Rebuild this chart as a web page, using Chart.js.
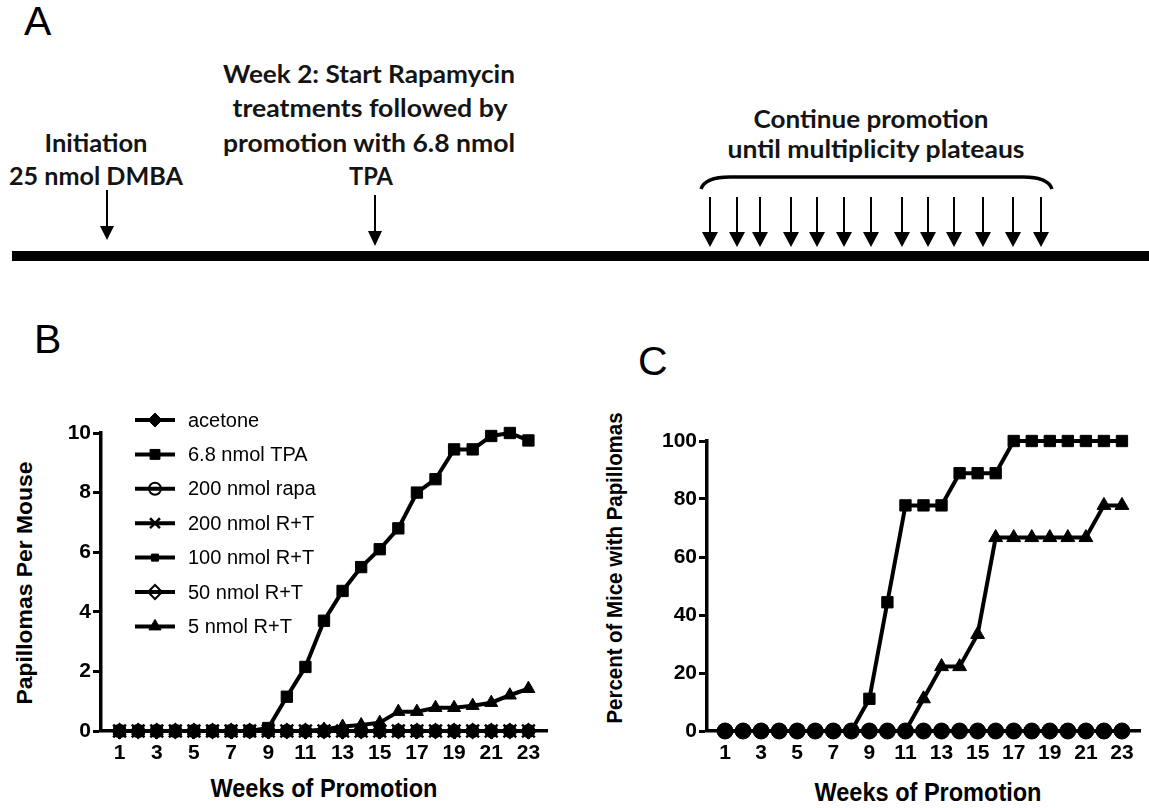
<!DOCTYPE html>
<html>
<head>
<meta charset="utf-8">
<title>Rapamycin / TPA papilloma study</title>
<script src="https://cdn.jsdelivr.net/npm/chart.js@4.4.1/dist/chart.umd.min.js"></script>
<style>
  html, body { margin: 0; padding: 0; background: #fff; }
  #fig { position: relative; width: 1149px; height: 808px; overflow: hidden; }
  #figSvg { position: absolute; left: 0; top: 0; }
  #figSvg .diag { font-family: Lato, "Open Sans", sans-serif; font-weight: 700; fill: #141414; }
  #figSvg .letter { font-family: "Liberation Sans", Arial, sans-serif; font-size: 41px; fill: #000; }
  #figSvg .atitle { font-family: "Liberation Sans", Arial, sans-serif; font-weight: bold; fill: #000; }
  canvas { position: absolute; }
</style>
</head>
<body>
<div id="fig">
  <svg id="figSvg" width="1149" height="808" xmlns="http://www.w3.org/2000/svg">
    <!-- panel letters -->
    <text class="letter" x="24" y="35">A</text>
    <text class="letter" x="34" y="353">B</text>
    <text class="letter" x="638" y="375">C</text>

    <!-- panel A : timeline -->
    <text class="diag" font-size="24" text-anchor="middle" x="96" y="152" textLength="103" lengthAdjust="spacingAndGlyphs">Initiation</text>
    <text class="diag" font-size="24" text-anchor="middle" x="96" y="185" textLength="174" lengthAdjust="spacingAndGlyphs">25 nmol DMBA</text>
    <text class="diag" font-size="24" text-anchor="middle" x="369" y="83" textLength="292" lengthAdjust="spacingAndGlyphs">Week 2: Start Rapamycin</text>
    <text class="diag" font-size="24" text-anchor="middle" x="370" y="117" textLength="275" lengthAdjust="spacingAndGlyphs">treatments followed by</text>
    <text class="diag" font-size="24" text-anchor="middle" x="369" y="152" textLength="292" lengthAdjust="spacingAndGlyphs">promotion with 6.8 nmol</text>
    <text class="diag" font-size="24" text-anchor="middle" x="371" y="185" textLength="44" lengthAdjust="spacingAndGlyphs">TPA</text>
    <text class="diag" font-size="24" text-anchor="middle" x="871" y="128" textLength="235" lengthAdjust="spacingAndGlyphs">Continue promotion</text>
    <text class="diag" font-size="24" text-anchor="middle" x="876" y="158" textLength="297" lengthAdjust="spacingAndGlyphs">until multiplicity plateaus</text>
    <path d="M 701 189 Q 705 177 730 177 L 1023 177 Q 1048 177 1052 189" fill="none" stroke="#000" stroke-width="3.5"/>
    <rect x="12" y="251" width="1137" height="10" fill="#000"/>
    <g id="arrows"></g>

    <!-- axis titles for B and C -->
    <text class="atitle" font-size="22" text-anchor="middle" transform="translate(32,583) rotate(-90)" textLength="243" lengthAdjust="spacingAndGlyphs">Papillomas Per Mouse</text>
    <text class="atitle" font-size="25" text-anchor="middle" x="324" y="797" textLength="227" lengthAdjust="spacingAndGlyphs">Weeks of Promotion</text>
    <text class="atitle" font-size="22" text-anchor="middle" transform="translate(622,568) rotate(-90)" textLength="311" lengthAdjust="spacingAndGlyphs">Percent of Mice with Papillomas</text>
    <text class="atitle" font-size="25" text-anchor="middle" x="928" y="801" textLength="227" lengthAdjust="spacingAndGlyphs">Weeks of Promotion</text>
  </svg>
  <canvas id="chartB" width="575" height="428" style="left:0px; top:380px;"></canvas>
  <canvas id="chartC" width="569" height="428" style="left:580px; top:380px;"></canvas>
</div>

<script>
// ---- data ----
var weeks = [1, 2, 3, 4, 5, 6, 7, 8, 9, 10, 11, 12, 13, 14, 15, 16, 17, 18, 19, 20, 21, 22, 23];
var xTickWeeks = [1, 3, 5, 7, 9, 11, 13, 15, 17, 19, 21, 23];
var yTicksB = [0, 2, 4, 6, 8, 10];
var yTicksC = [0, 20, 40, 60, 80, 100];

// B: papillomas per mouse
var acetoneB = [0, 0, 0, 0, 0, 0, 0, 0, 0, 0, 0, 0, 0, 0, 0, 0, 0, 0, 0, 0, 0, 0, 0];
var tpaB     = [0, 0, 0, 0, 0, 0, 0, 0, 0.1, 1.15, 2.15, 3.7, 4.7, 5.5, 6.1, 6.8, 8.0, 8.45, 9.45, 9.45, 9.9, 10.0, 9.75];
var rapa200B = [0, 0, 0, 0, 0, 0, 0, 0, 0, 0, 0, 0, 0, 0, 0, 0, 0, 0, 0, 0, 0, 0, 0];
var rt200B   = [0, 0, 0, 0, 0, 0, 0, 0, 0, 0, 0, 0, 0, 0, 0, 0, 0, 0, 0, 0, 0, 0, 0];
var rt100B   = [0, 0, 0, 0, 0, 0, 0, 0, 0, 0, 0, 0, 0, 0, 0, 0, 0, 0, 0, 0, 0, 0, 0];
var rt50B    = [0, 0, 0, 0, 0, 0, 0, 0, 0, 0, 0, 0, 0, 0, 0, 0, 0, 0, 0, 0, 0, 0, 0];
var rt5B     = [0, 0, 0, 0, 0, 0, 0, 0, 0, 0, 0, 0.05, 0.15, 0.2, 0.28, 0.65, 0.65, 0.78, 0.78, 0.85, 0.95, 1.2, 1.42];
var seriesNamesB = ['acetone', '6.8 nmol TPA', '200 nmol rapa', '200 nmol R+T', '100 nmol R+T', '50 nmol R+T', '5 nmol R+T'];

// C: percent of mice with papillomas
var otherGroupsC = [0, 0, 0, 0, 0, 0, 0, 0, 0, 0, 0, 0, 0, 0, 0, 0, 0, 0, 0, 0, 0, 0, 0];
var tpaC = [0, 0, 0, 0, 0, 0, 0, 0, 11.1, 44.4, 77.8, 77.8, 77.8, 88.9, 88.9, 88.9, 100, 100, 100, 100, 100, 100, 100];
var rt5C = [0, 0, 0, 0, 0, 0, 0, 0, 0, 0, 0, 11.1, 22.2, 22.2, 33.3, 66.7, 66.7, 66.7, 66.7, 66.7, 66.7, 77.8, 77.8];

// arrows on the timeline (panel A)
var promotionArrowX = [710, 737, 760, 791, 817, 844, 871, 902, 928, 954, 983, 1013, 1041];

// ---- panel A arrows ----
var svgNS = 'http://www.w3.org/2000/svg';
function addArrow(x, yStart, yHead, yTip, halfW) {
    var g = document.getElementById('arrows');
    var shaft = document.createElementNS(svgNS, 'line');
    shaft.setAttribute('x1', x); shaft.setAttribute('x2', x);
    shaft.setAttribute('y1', yStart); shaft.setAttribute('y2', yHead + 1);
    shaft.setAttribute('stroke', '#000'); shaft.setAttribute('stroke-width', '2');
    g.appendChild(shaft);
    var head = document.createElementNS(svgNS, 'polygon');
    head.setAttribute('points', (x - halfW) + ',' + yHead + ' ' + (x + halfW) + ',' + yHead + ' ' + x + ',' + yTip);
    head.setAttribute('fill', '#000');
    g.appendChild(head);
}
addArrow(107, 190, 226, 240, 7);
addArrow(375, 195, 231, 246, 7);
promotionArrowX.forEach(function (x) { addArrow(x, 197, 232, 247, 8); });

// ---- charts ----
var fam = '"Liberation Sans", Arial, sans-serif';
Chart.defaults.font.family = fam;
Chart.defaults.color = '#000';

function pts(values) {
    return weeks.map(function (w, i) { return { x: w, y: values[i] }; });
}

function series(label, values, style, radius, fill, bw) {
    return {
        label: label,
        data: pts(values),
        borderColor: '#000',
        borderWidth: 4,
        pointStyle: style,
        pointRadius: radius,
        pointBackgroundColor: fill,
        pointBorderColor: '#000',
        pointBorderWidth: bw || 1,
        tension: 0,
        clip: false
    };
}

// legend drawn as line + marker + text, like the Prism legend
var lineLegend = {
    id: 'lineLegend',
    afterDraw: function (chart, args, opts) {
        if (!opts.display) return;
        var ctx = chart.ctx;
        ctx.save();
        chart.data.datasets.forEach(function (ds, i) {
            var y = opts.top + i * opts.rowGap;
            ctx.strokeStyle = '#000';
            ctx.lineWidth = ds.borderWidth;
            ctx.beginPath();
            ctx.moveTo(opts.left, y);
            ctx.lineTo(opts.left + opts.lineLength, y);
            ctx.stroke();
            ctx.fillStyle = ds.pointBackgroundColor;
            ctx.lineWidth = ds.pointBorderWidth;
            Chart.helpers.drawPoint(ctx, {
                pointStyle: ds.pointStyle,
                radius: Math.min(ds.pointRadius, 7),
                borderWidth: ds.pointBorderWidth,
                rotation: 0
            }, opts.left + opts.lineLength / 2, y);
            ctx.fillStyle = '#000';
            ctx.font = opts.font;
            ctx.textBaseline = 'middle';
            ctx.textAlign = 'left';
            ctx.fillText(ds.label, opts.left + opts.lineLength + opts.gap, y + 1);
        });
        ctx.restore();
    }
};

function axisOpts(min, max, tickValues, fitKey, fitSize) {
    return {
        type: 'linear',
        min: min,
        max: max,
        afterBuildTicks: function (scale) {
            scale.ticks = tickValues.map(function (v) { return { value: v }; });
        },
        afterFit: function (scale) { scale[fitKey] = fitSize; },
        grid: { drawOnChartArea: false, drawTicks: true, tickLength: 8, tickWidth: 3, tickColor: '#000' },
        border: { display: true, color: '#000', width: 3.5 },
        ticks: { color: '#000', font: { family: fam, size: 21, weight: 'bold' }, padding: 2, autoSkip: false, maxRotation: 0 }
    };
}

function makeChart(canvasId, datasets, yMax, yTicks, yWidth, padding, legendOpts) {
    return new Chart(document.getElementById(canvasId), {
        type: 'line',
        data: { datasets: datasets },
        options: {
            responsive: false,
            animation: false,
            events: [],
            layout: { padding: padding },
            plugins: {
                legend: { display: false },
                tooltip: { enabled: false },
                lineLegend: legendOpts
            },
            scales: {
                x: axisOpts(0, 24, xTickWeeks, 'height', 77),
                y: axisOpts(0, yMax, yTicks, 'width', yWidth)
            }
        },
        plugins: [lineLegend]
    });
}

var dsB = [
    series(seriesNamesB[0], acetoneB, 'rectRot', 7, '#000'),
    series(seriesNamesB[1], tpaB, 'rect', 8, '#000'),
    series(seriesNamesB[2], rapa200B, 'circle', 6, 'transparent', 2),
    series(seriesNamesB[3], rt200B, 'crossRot', 9, '#000', 2.5),
    series(seriesNamesB[4], rt100B, 'rect', 5, '#000'),
    series(seriesNamesB[5], rt50B, 'rectRot', 7, 'transparent', 2),
    series(seriesNamesB[6], rt5B, 'triangle', 7.5, '#000')
];

makeChart('chartB', dsB, 10, yTicksB, 101,
    { left: 0, right: 28, top: 53, bottom: 0 },
    { display: true, left: 135, lineLength: 40, gap: 13, top: 40, rowGap: 34.4, font: '20px ' + fam });

var dsC = [
    series('acetone / rapa / R+T groups', otherGroupsC, 'circle', 8, '#000'),
    series('6.8 nmol TPA', tpaC, 'rect', 8, '#000'),
    series('5 nmol R+T', rt5C, 'triangle', 8, '#000')
];

makeChart('chartC', dsC, 100, yTicksC, 127,
    { left: 0, right: 3, top: 61, bottom: 0 },
    { display: false });
</script>
</body>
</html>
